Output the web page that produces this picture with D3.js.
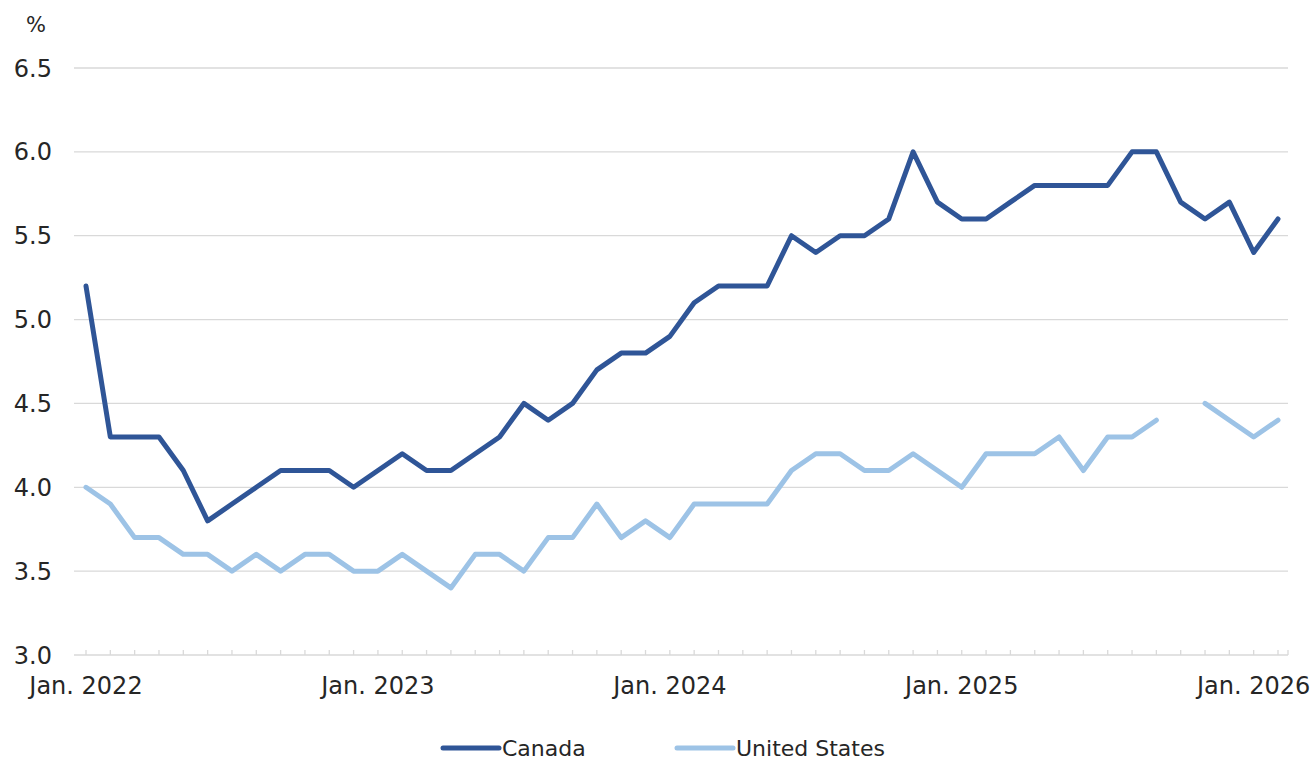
<!DOCTYPE html>
<html>
<head>
<meta charset="utf-8">
<script src="https://cdn.jsdelivr.net/npm/d3@7"></script>
<style>
  body { margin: 0; background: #fff; }
  text { font-family: Verdana, "DejaVu Sans", sans-serif; fill: #262626; }
</style>
</head>
<body>
<div id="chart"></div>
<script>
// months Jan 2022 .. Feb 2026
let months = [];
for (let y = 2022; y <= 2026; y++) {
  for (let m = 0; m < 12; m++) {
    if (y === 2026 && m > 1) break;
    months.push(y + '-' + (m + 1));
  }
}
let monthLabels = {'2022-1': 'Jan. 2022', '2023-1': 'Jan. 2023', '2024-1': 'Jan. 2024', '2025-1': 'Jan. 2025', '2026-1': 'Jan. 2026'};

let canada = [5.2, 4.3, 4.3, 4.3, 4.1, 3.8, 3.9, 4.0, 4.1, 4.1, 4.1, 4.0,
  4.1, 4.2, 4.1, 4.1, 4.2, 4.3, 4.5, 4.4, 4.5, 4.7, 4.8, 4.8,
  4.9, 5.1, 5.2, 5.2, 5.2, 5.5, 5.4, 5.5, 5.5, 5.6, 6.0, 5.7,
  5.6, 5.6, 5.7, 5.8, 5.8, 5.8, 5.8, 6.0, 6.0, 5.7, 5.6, 5.7,
  5.4, 5.6];
let unitedStates = [4.0, 3.9, 3.7, 3.7, 3.6, 3.6, 3.5, 3.6, 3.5, 3.6, 3.6, 3.5,
  3.5, 3.6, 3.5, 3.4, 3.6, 3.6, 3.5, 3.7, 3.7, 3.9, 3.7, 3.8,
  3.7, 3.9, 3.9, 3.9, 3.9, 4.1, 4.2, 4.2, 4.1, 4.1, 4.2, 4.1,
  4.0, 4.2, 4.2, 4.2, 4.3, 4.1, 4.3, 4.3, 4.4, null, 4.5, 4.4,
  4.3, 4.4];
let yTicks = [3.0, 3.5, 4.0, 4.5, 5.0, 5.5, 6.0, 6.5];

let series = [
  {name: 'Canada', values: canada, color: '#2f5597'},
  {name: 'United States', values: unitedStates, color: '#9dc3e6'}
];

let w = 1315, h = 761;
let plot = {left: 74, right: 1288, top: 68, bottom: 655};

let svg = d3.select('#chart').append('svg').attr('width', w).attr('height', h);

let xScale = d3.scalePoint().domain(months).range([86, 1278]);
let yScale = d3.scaleLinear().domain([3, 6.5]).range([plot.bottom, plot.top]);

// gridlines
svg.append('g')
  .selectAll('line')
  .data(yTicks)
  .enter()
  .append('line')
  .attr('x1', plot.left)
  .attr('x2', plot.right)
  .attr('y1', d => yScale(d))
  .attr('y2', d => yScale(d))
  .style('stroke', '#d9d9d9')
  .style('stroke-width', 1.3);

// y labels
svg.append('g')
  .selectAll('text')
  .data(yTicks)
  .enter()
  .append('text')
  .text(d => d.toFixed(1))
  .attr('x', 52)
  .attr('y', d => yScale(d))
  .attr('dy', '0.36em')
  .attr('text-anchor', 'end')
  .style('font-size', '24px');

svg.append('text')
  .text('%')
  .attr('x', 36)
  .attr('y', 32)
  .attr('text-anchor', 'middle')
  .style('font-size', '21px');

// x axis ticks
svg.append('g')
  .selectAll('line')
  .data(months)
  .enter()
  .append('line')
  .attr('x1', d => xScale(d))
  .attr('x2', d => xScale(d))
  .attr('y1', plot.bottom - 5)
  .attr('y2', plot.bottom)
  .style('stroke', '#d9d9d9')
  .style('stroke-width', 1.3);

svg.append('line')
  .attr('x1', plot.right).attr('x2', plot.right)
  .attr('y1', plot.bottom - 5).attr('y2', plot.bottom)
  .style('stroke', '#d9d9d9').style('stroke-width', 1.3);

svg.append('g')
  .selectAll('text')
  .data(months.filter(m => monthLabels[m]))
  .enter()
  .append('text')
  .text(d => monthLabels[d])
  .attr('x', d => xScale(d))
  .attr('y', 694)
  .attr('text-anchor', 'middle')
  .style('font-size', '24px');

// lines
let line = d3.line()
  .defined(d => d.v !== null)
  .x(d => xScale(d.m))
  .y(d => yScale(d.v));

series.slice().reverse().forEach(function (s) {
  svg.append('path')
    .datum(months.map((m, i) => ({m: m, v: s.values[i]})))
    .attr('d', line)
    .style('fill', 'none')
    .style('stroke', s.color)
    .style('stroke-width', 5)
    .style('stroke-linejoin', 'round')
    .style('stroke-linecap', 'round');
});

// legend
let legendPos = [443, 677];
series.forEach(function (s, i) {
  let g = svg.append('g').attr('transform', 'translate(' + legendPos[i] + ',748)');
  g.append('line')
    .attr('x1', 0).attr('x2', 56)
    .style('stroke', s.color)
    .style('stroke-width', 5)
    .style('stroke-linecap', 'round');
  g.append('text')
    .text(s.name)
    .attr('x', 59)
    .attr('dy', '0.36em')
    .style('font-size', '22px');
});
</script>
</body>
</html>
